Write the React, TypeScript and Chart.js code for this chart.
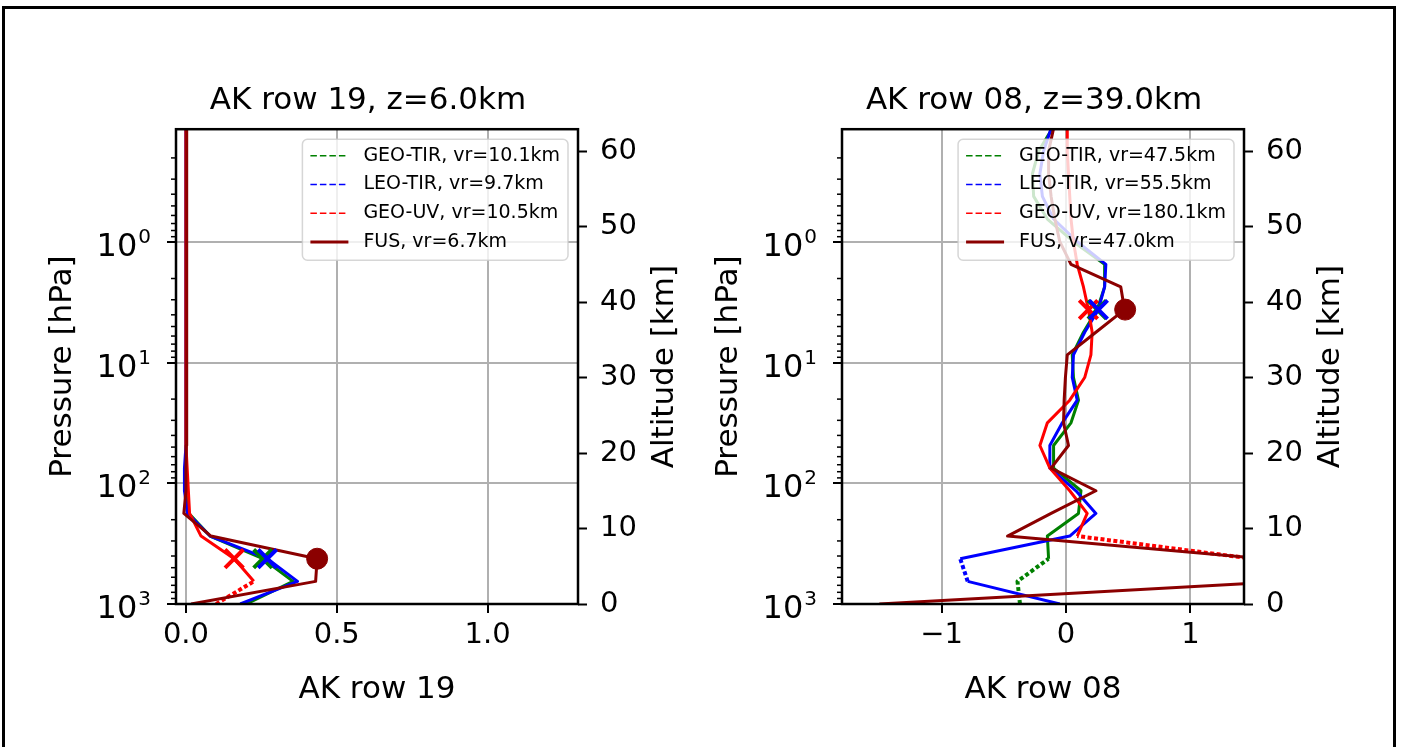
import React, { useEffect, useRef } from 'react';
import { Chart, registerables } from 'chart.js';

Chart.register(...registerables);

const FONT = "'DejaVu Sans', sans-serif";

// Retrieval altitude grid (km)
const ALT_LEVELS = [0, 3, 6, 9, 12, 15, 18, 21, 24, 27, 30, 33, 36, 39, 42, 45, 48, 51, 54, 57, 60, 63];

// Left panel: AK row 19 (z = 6.0 km)
const LEFT_GEO_TIR = [0.2, 0.355, 0.255, 0.08, 0.01, 0.0, 0.0, 0.0, 0.0, 0.0, 0.0, 0.0, 0.0, 0.0, 0.0, 0.0, 0.0, 0.0, 0.0, 0.0, 0.0, 0.0];
const LEFT_LEO_TIR = [0.18, 0.37, 0.27, 0.08, 0.005, -0.005, -0.005, 0.0, 0.0, 0.0, 0.0, 0.0, 0.0, 0.0, 0.0, 0.0, 0.0, 0.0, 0.0, 0.0, 0.0, 0.0];
const LEFT_GEO_UV = [0.1, 0.225, 0.16, 0.05, 0.012, 0.008, 0.004, 0.0, 0.0, 0.0, 0.0, 0.0, 0.0, 0.0, 0.0, 0.0, 0.0, 0.0, 0.0, 0.0, 0.0, 0.0];
const LEFT_FUS = [0.017, 0.43, 0.435, 0.083, -0.007, 0.0, 0.0, 0.001, 0.002, 0.002, 0.002, 0.002, 0.002, 0.002, 0.002, 0.003, 0.003, 0.003, 0.003, 0.003, 0.003, 0.003];
const LEFT_MARKER_ALT = 6.0;
const LEFT_MARKER_AK = [0.255, 0.27, 0.16, 0.435];
const LEFT_VR = ['10.1', '9.7', '10.5', '6.7'];
const LEFT_X_TICKS = [0, 0.5, 1.0];

// Right panel: AK row 08 (z = 39.0 km)
const RIGHT_GEO_TIR = [-0.37, -0.39, -0.14, -0.15, 0.1, 0.12, -0.1, -0.1, 0.04, 0.1, 0.06, 0.05, 0.14, 0.25, 0.31, 0.31, 0.06, -0.15, -0.26, -0.27, -0.22, -0.11];
const RIGHT_LEO_TIR = [-0.05, -0.79, -0.85, 0.03, 0.24, 0.08, -0.13, -0.13, -0.03, 0.09, 0.05, 0.06, 0.15, 0.26, 0.31, 0.32, 0.09, -0.1, -0.19, -0.21, -0.18, -0.12];
const RIGHT_GEO_UV = [2.0, 2.5, 1.5, 0.09, 0.17, 0.03, -0.13, -0.21, -0.15, 0.03, 0.15, 0.2, 0.21, 0.18, 0.14, 0.09, 0.06, 0.04, 0.03, 0.02, 0.01, 0.01];
const RIGHT_FUS = [-1.5, 1.77, 1.58, -0.47, -0.12, 0.24, -0.12, 0.02, -0.02, -0.015, -0.005, 0.01, 0.24, 0.47, 0.44, 0.04, -0.05, -0.09, -0.12, -0.14, -0.14, -0.1];
const RIGHT_MARKER_ALT = 39.0;
const RIGHT_MARKER_AK = [0.25, 0.26, 0.18, 0.475];
const RIGHT_VR = ['47.5', '55.5', '180.1', '47.0'];
const RIGHT_X_TICKS = [-1, 0, 1];

const SERIES_NAMES = ['GEO-TIR', 'LEO-TIR', 'GEO-UV', 'FUS'];
const SERIES_COLORS = ['#008000', '#0000ff', '#ff0000', '#8b0000'];

const PRESSURE_MAJOR = [1, 10, 100, 1000];
const PRESSURE_EXP = ['0', '1', '2', '3'];
const ALT_TICKS = [0, 10, 20, 30, 40, 50, 60];
const P_TOP = 0.1156;
const P_BOTTOM = 1000;
const ALT_TOP = 62.9;

type Panel = {
  title: string;
  xTitle: string;
  xMin: number;
  xMax: number;
  xTicks: number[];
  fmt: (v: number) => string;
  series: number[][];
  dash: (number[] | null)[];
  markerAlt: number;
  markerAk: number[];
  vr: string[];
  left: number;
};

const LEFT_PANEL: Panel = {
  title: 'AK row 19, z=6.0km',
  xTitle: 'AK row 19',
  xMin: -0.033,
  xMax: 1.3,
  xTicks: LEFT_X_TICKS,
  fmt: (v) => v.toFixed(1),
  series: [LEFT_GEO_TIR, LEFT_LEO_TIR, LEFT_GEO_UV, LEFT_FUS],
  dash: [null, null, [0, 3], null],
  markerAlt: LEFT_MARKER_ALT,
  markerAk: LEFT_MARKER_AK,
  vr: LEFT_VR,
  left: 0,
};

const RIGHT_PANEL: Panel = {
  title: 'AK row 08, z=39.0km',
  xTitle: 'AK row 08',
  xMin: -1.8,
  xMax: 1.43,
  xTicks: RIGHT_X_TICKS,
  fmt: (v) => (v < 0 ? '\u2212' + Math.abs(v) : String(v)),
  series: [RIGHT_GEO_TIR, RIGHT_LEO_TIR, RIGHT_GEO_UV, RIGHT_FUS],
  dash: [[0, 6], [3, 6], [6, 9], null],
  markerAlt: RIGHT_MARKER_ALT,
  markerAk: RIGHT_MARKER_AK,
  vr: RIGHT_VR,
  left: 666,
};

function roundRectPath(ctx: CanvasRenderingContext2D, x: number, y: number, w: number, h: number, r: number) {
  ctx.beginPath();
  ctx.moveTo(x + r, y);
  ctx.lineTo(x + w - r, y);
  ctx.arcTo(x + w, y, x + w, y + r, r);
  ctx.lineTo(x + w, y + h - r);
  ctx.arcTo(x + w, y + h, x + w - r, y + h, r);
  ctx.lineTo(x + r, y + h);
  ctx.arcTo(x, y + h, x, y + h - r, r);
  ctx.lineTo(x, y + r);
  ctx.arcTo(x, y, x + r, y, r);
  ctx.closePath();
}

function makeDecor(panel: Panel) {
  return {
    id: 'decor',
    afterDatasetsDraw(chart: any) {
      const { ctx, chartArea: a } = chart;
      ctx.save();
      ctx.font = `19px ${FONT}`;
      const labels = SERIES_NAMES.map((n, i) => `${n}, vr=${panel.vr[i]}km`);
      const tw = Math.max(...labels.map((l) => ctx.measureText(l).width));
      const w = 8 + 38 + 15 + tw + 8;
      const h = 121;
      const x0 = a.right - 10 - w;
      const y0 = a.top + 10;
      roundRectPath(ctx, x0, y0, w, h, 5);
      ctx.fillStyle = 'rgba(255,255,255,0.8)';
      ctx.fill();
      ctx.strokeStyle = 'rgba(204,204,204,0.8)';
      ctx.lineWidth = 1.5;
      ctx.stroke();
      labels.forEach((l, i) => {
        const y = y0 + 16.5 + i * 28.8;
        ctx.beginPath();
        ctx.setLineDash(i < 3 ? [6.5, 3] : []);
        ctx.lineWidth = i < 3 ? 1.5 : 3;
        ctx.strokeStyle = SERIES_COLORS[i];
        ctx.moveTo(x0 + 8, y);
        ctx.lineTo(x0 + 46, y);
        ctx.stroke();
        ctx.setLineDash([]);
        ctx.fillStyle = '#000';
        ctx.textAlign = 'left';
        ctx.textBaseline = 'middle';
        ctx.fillText(l, x0 + 61, y);
      });
      ctx.restore();
    },
    afterDraw(chart: any) {
      const { ctx, chartArea: a, scales } = chart;
      const yP = scales.yP;
      ctx.save();
      // minor ticks on the pressure axis
      ctx.strokeStyle = '#000';
      ctx.lineWidth = 1.5;
      PRESSURE_MAJOR.forEach((major) => {
        const base = major / 10;
        for (let m = 2; m <= 9; m++) {
          const v = base * m;
          if (v < P_TOP || v > P_BOTTOM) continue;
          const y = yP.getPixelForValue(v);
          ctx.beginPath();
          ctx.moveTo(a.left - 5, y);
          ctx.lineTo(a.left, y);
          ctx.stroke();
        }
      });
      // pressure tick labels: 10 with a superscript exponent
      ctx.fillStyle = '#000';
      ctx.textAlign = 'right';
      ctx.textBaseline = 'alphabetic';
      PRESSURE_MAJOR.forEach((v, i) => {
        const y = yP.getPixelForValue(v);
        const xr = a.left - 25;
        ctx.font = `20px ${FONT}`;
        const sw = ctx.measureText(PRESSURE_EXP[i]).width;
        ctx.fillText(PRESSURE_EXP[i], xr, y + 1);
        ctx.font = `32px ${FONT}`;
        ctx.fillText('10', xr - sw - 1, y + 14);
      });
      // axes frame
      ctx.lineWidth = 2.5;
      ctx.strokeRect(a.left, a.top, a.right - a.left, a.bottom - a.top);
      // right axis title (reads bottom-to-top)
      ctx.translate(chart.width - 52 - 18.6, (a.top + a.bottom) / 2);
      ctx.rotate(-Math.PI / 2);
      ctx.font = `31px ${FONT}`;
      ctx.textAlign = 'center';
      ctx.textBaseline = 'middle';
      ctx.fillText('Altitude [km]', 0, 0);
      ctx.restore();
    },
  };
}

function buildConfig(panel: Panel): any {
  const lineSets = panel.series.map((ak, i) => {
    const range = panel.dash[i];
    const inRange = (ctx: any) =>
      range !== null && ctx.p0.parsed.y >= range[0] && ctx.p1.parsed.y <= range[1];
    return {
      label: SERIES_NAMES[i],
      data: ALT_LEVELS.map((z, k) => ({ x: ak[k], y: z })),
      showLine: true,
      borderColor: SERIES_COLORS[i],
      backgroundColor: SERIES_COLORS[i],
      borderWidth: 3,
      borderJoinStyle: 'round',
      pointRadius: 0,
      pointHoverRadius: 0,
      pointHitRadius: 0,
      xAxisID: 'x',
      yAxisID: 'yA',
      order: 10 - i,
      segment: {
        borderDash: (ctx: any) => (inRange(ctx) ? [4, 2.5] : undefined),
        borderWidth: (ctx: any) => (inRange(ctx) ? 4 : undefined),
      },
    };
  });
  const markerSets = panel.markerAk.map((ak, i) => ({
    label: SERIES_NAMES[i] + ' marker',
    data: [{ x: ak, y: panel.markerAlt }],
    showLine: false,
    pointStyle: i < 3 ? 'crossRot' : 'circle',
    pointRadius: i < 3 ? 13 : 10.5,
    pointHoverRadius: i < 3 ? 13 : 10.5,
    pointBorderWidth: i < 3 ? 4 : 1,
    pointBorderColor: SERIES_COLORS[i],
    pointBackgroundColor: SERIES_COLORS[i],
    borderColor: SERIES_COLORS[i],
    backgroundColor: SERIES_COLORS[i],
    xAxisID: 'x',
    yAxisID: 'yA',
    order: i === 0 ? 1 : 0,
  }));

  return {
    type: 'scatter',
    data: { datasets: [...lineSets, ...markerSets] },
    options: {
      responsive: false,
      animation: false,
      events: [],
      layout: { padding: 0 },
      plugins: {
        legend: { display: false },
        tooltip: { enabled: false },
        title: {
          display: true,
          text: panel.title,
          color: '#000',
          font: { size: 31, family: FONT, weight: 'normal' },
          padding: { top: 82, bottom: 10 },
        },
      },
      scales: {
        x: {
          type: 'linear',
          position: 'bottom',
          min: panel.xMin,
          max: panel.xMax,
          bounds: 'data',
          afterBuildTicks: (s: any) => {
            s.ticks = panel.xTicks.map((v) => ({ value: v }));
          },
          afterFit: (s: any) => {
            s.height = 143;
          },
          ticks: {
            callback: (v: number) => panel.fmt(v),
            color: '#000',
            font: { size: 29, family: FONT },
            padding: 5,
            maxRotation: 0,
            autoSkip: false,
          },
          grid: {
            color: '#b0b0b0',
            lineWidth: 2,
            drawTicks: true,
            tickLength: 9,
            tickColor: '#000',
            tickWidth: 2,
          },
          border: { display: false },
          title: {
            display: true,
            text: panel.xTitle,
            color: '#000',
            font: { size: 31, family: FONT },
            padding: { top: 0, bottom: 38 },
          },
        },
        yP: {
          type: 'logarithmic',
          position: 'left',
          reverse: true,
          min: P_TOP,
          max: P_BOTTOM,
          bounds: 'data',
          afterBuildTicks: (s: any) => {
            s.ticks = PRESSURE_MAJOR.map((v) => ({ value: v }));
          },
          afterFit: (s: any) => {
            s.width = 176;
          },
          ticks: {
            display: false,
            autoSkip: false,
          },
          grid: {
            color: '#b0b0b0',
            lineWidth: 2,
            drawTicks: true,
            tickLength: 9,
            tickColor: '#000',
            tickWidth: 2,
          },
          border: { display: false },
          title: {
            display: true,
            text: 'Pressure [hPa]',
            color: '#000',
            font: { size: 31, family: FONT },
            padding: { top: 44, bottom: 0 },
          },
        },
        yA: {
          type: 'linear',
          position: 'right',
          min: 0,
          max: ALT_TOP,
          bounds: 'data',
          afterBuildTicks: (s: any) => {
            s.ticks = ALT_TICKS.map((v) => ({ value: v }));
          },
          afterFit: (s: any) => {
            s.width = 158;
          },
          ticks: {
            callback: (v: number) => String(v),
            color: '#000',
            font: { size: 29, family: FONT },
            padding: 13,
            autoSkip: false,
          },
          grid: {
            drawOnChartArea: false,
            drawTicks: true,
            tickLength: 9,
            tickColor: '#000',
            tickWidth: 2,
          },
          border: { display: false },
          title: { display: false },
        },
      },
    },
    plugins: [makeDecor(panel)],
  };
}

function PanelChart({ panel }: { panel: Panel }) {
  const ref = useRef<HTMLCanvasElement | null>(null);
  useEffect(() => {
    if (!ref.current) return;
    const chart = new Chart(ref.current, buildConfig(panel));
    return () => chart.destroy();
  }, [panel]);
  return (
    <canvas
      ref={ref}
      width={736}
      height={747}
      style={{ position: 'absolute', left: panel.left, top: 0, width: 736, height: 747 }}
    />
  );
}

export default function App() {
  return (
    <div
      style={{
        position: 'fixed',
        left: 0,
        top: 0,
        width: 1402,
        height: 747,
        background: '#fff',
        overflow: 'hidden',
      }}
    >
      <PanelChart panel={LEFT_PANEL} />
      <PanelChart panel={RIGHT_PANEL} />
      <div
        style={{
          position: 'absolute',
          left: 2,
          top: 6,
          width: 1394,
          height: 800,
          border: '3px solid #000',
          boxSizing: 'border-box',
          pointerEvents: 'none',
        }}
      />
    </div>
  );
}
